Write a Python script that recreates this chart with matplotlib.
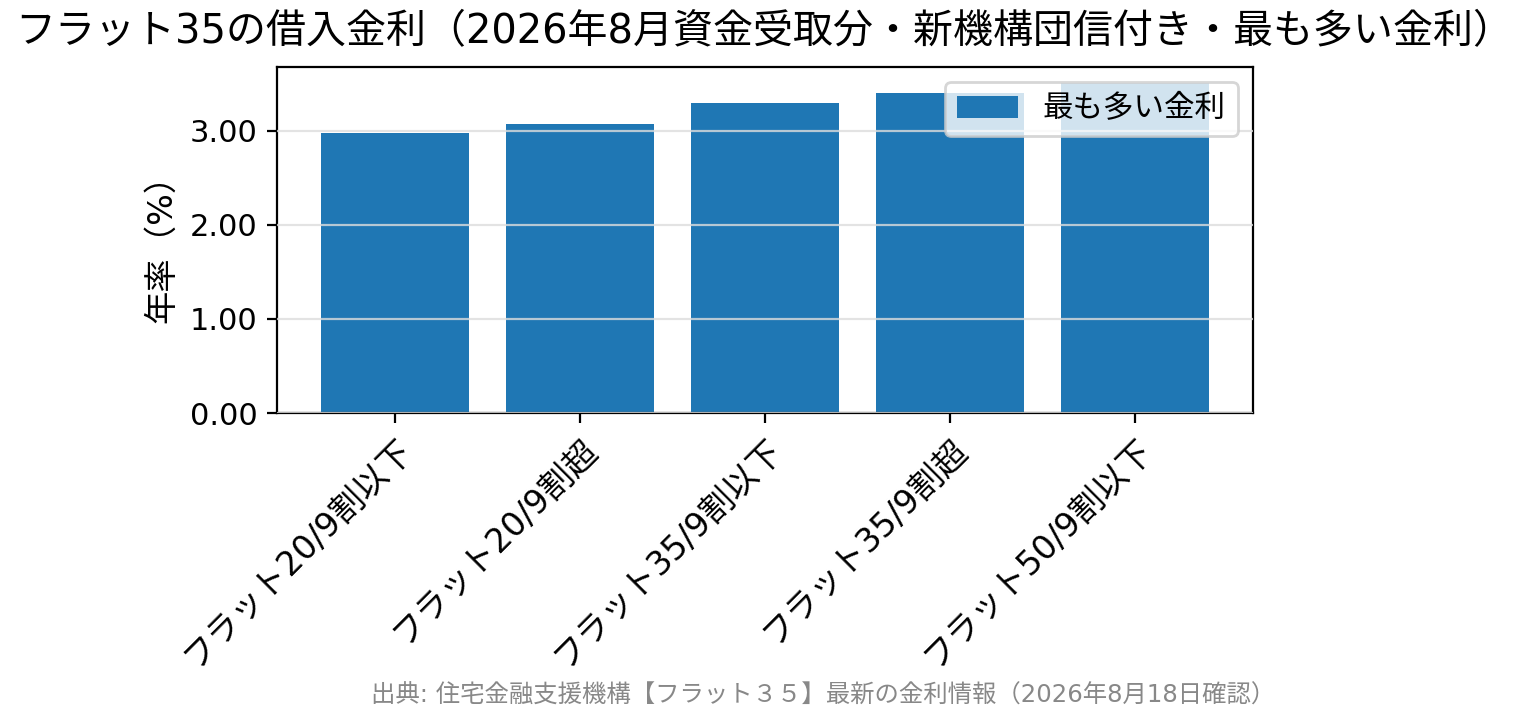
import matplotlib
matplotlib.use("Agg")
import matplotlib.pyplot as plt
from matplotlib.ticker import FormatStrFormatter

plt.rcParams['font.family'] = ['DejaVu Sans', 'Noto Sans CJK JP']

# 2026年8月資金受取分 最も多い金利（%）
categories = ["フラット20/9割以下", "フラット20/9割超", "フラット35/9割以下",
              "フラット35/9割超", "フラット50/9割以下"]
rates = [2.97, 3.07, 3.29, 3.40, 3.50]

title = "フラット35の借入金利（2026年8月資金受取分・新機構団信付き・最も多い金利）"
source = "出典: 住宅金融支援機構【フラット３５】最新の金利情報（2026年8月18日確認）"

fig = plt.figure(figsize=(7.64, 3.625), dpi=200)
ax = fig.add_axes([0.1813, 0.4303, 0.6387, 0.4773])

ax.bar(categories, rates, width=0.8, color="#1f77b4", label="最も多い金利", zorder=2)
ax.grid(axis="y", color="#dddddd", alpha=0.8, linewidth=0.8, zorder=0)
ax.set_axisbelow(False)
ax.yaxis.set_major_formatter(FormatStrFormatter("%.2f"))
ax.set_yticks([0, 1, 2, 3])
ax.tick_params(axis="y", labelsize=11)
ax.tick_params(axis="x", labelsize=12)
plt.setp(ax.get_xticklabels(), rotation=45, ha="right", rotation_mode="anchor")
ax.set_ylabel("年率（%）", fontsize=12)
ax.legend(loc="upper right", fontsize=11)

fig.text(0.5, 0.955, title, ha="center", va="center", fontsize=14.4)
fig.text(0.539, 0.04, source, ha="center", va="center", fontsize=8.8, color="#888888")

fig.savefig("out.png", dpi=200)
